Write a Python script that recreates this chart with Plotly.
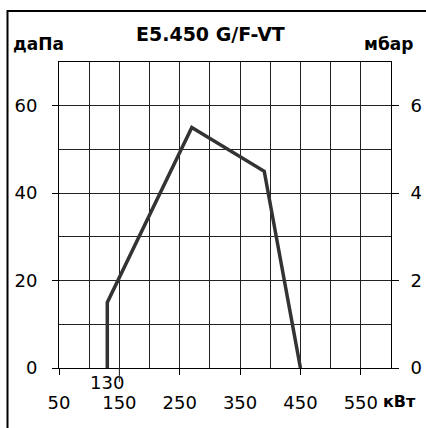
import plotly.graph_objects as go

# Data
power_kw = [130, 130, 270, 390, 450]
pressure_dapa = [0, 15, 55, 45, 0]

x_tick_vals = [50, 150, 250, 350, 450, 550]
x_tick_text = ["50", "150", "250", "350", "450", "550"]
extra_x_tick_vals = [130]
extra_x_tick_text = ["130"]
y_left_vals = [0, 20, 40, 60]
y_left_text = ["0", "20", "40", "60"]
y_right_vals = [0, 2, 4, 6]
y_right_text = ["0", "2", "4", "6"]

title_text = "E5.450 G/F-VT"
left_unit = "даПа"
right_unit = "мбар"
x_unit = "кВт"

FONT = "DejaVu Sans"
W, H = 426, 428
ML, MR, MT, MB = 59, 35, 62, 60
PW = W - ML - MR
PH = H - MT - MB


def px_to_paper_x(px):
    return (px - ML) / PW


def px_to_paper_y(py):
    return (H - MB - py) / PH


fig = go.Figure()
fig.add_trace(go.Scatter(
    x=power_kw, y=pressure_dapa, mode="lines",
    line=dict(color="#333333", width=3.5),
    showlegend=False, hoverinfo="skip",
))
# dummy trace on secondary axes so they render
fig.add_trace(go.Scatter(x=[None], y=[None], xaxis="x2", yaxis="y2",
                         showlegend=False, hoverinfo="skip"))

fig.update_layout(
    width=W, height=H,
    margin=dict(l=ML, r=MR, t=MT, b=MB, pad=0, autoexpand=False),
    paper_bgcolor="white", plot_bgcolor="white",
    font=dict(family=FONT, size=18, color="black"),
    xaxis=dict(
        range=[50, 600], tickvals=x_tick_vals, ticktext=x_tick_text,
        ticks="outside", ticklen=6, tickcolor="black", tickwidth=1,
        showgrid=False, zeroline=False, automargin=False,
        showline=True, mirror=True, linecolor="black", linewidth=1,
        minor=dict(tick0=50, dtick=50, showgrid=True, gridcolor="#222222",
                   gridwidth=1, ticks=""),
        ticklabelstandoff=12,
        tickfont=dict(family=FONT, size=18),
    ),
    xaxis2=dict(
        range=[50, 600], overlaying="x", side="bottom", automargin=False,
        tickvals=extra_x_tick_vals, ticktext=extra_x_tick_text,
        ticks="", showgrid=False, zeroline=False, showline=False,
        ticklabelstandoff=2,
        tickfont=dict(family=FONT, size=18),
    ),
    yaxis=dict(
        range=[0, 70], tickvals=y_left_vals, ticktext=y_left_text,
        ticks="outside", ticklen=6, tickcolor="black", tickwidth=1,
        showgrid=False, zeroline=False, automargin=False,
        showline=True, mirror=True, linecolor="black", linewidth=1,
        minor=dict(tick0=0, dtick=10, showgrid=True, gridcolor="#222222",
                   gridwidth=1, ticks=""),
        ticklabelstandoff=11,
        tickfont=dict(family=FONT, size=18),
    ),
    yaxis2=dict(
        range=[0, 7], overlaying="y", side="right", anchor="x",
        automargin=False,
        tickvals=y_right_vals, ticktext=y_right_text,
        ticks="outside", ticklen=7, tickcolor="black", tickwidth=1,
        showgrid=False, zeroline=False, showline=False,
        ticklabelstandoff=8,
        tickfont=dict(family=FONT, size=18),
    ),
    shapes=[
        # outer frame
        dict(type="rect", xref="paper", yref="paper",
             x0=px_to_paper_x(7.5), x1=px_to_paper_x(450),
             y0=px_to_paper_y(450), y1=px_to_paper_y(11),
             line=dict(color="black", width=2), fillcolor="rgba(0,0,0,0)",
             layer="above"),
        # longer tick at 150
        dict(type="line", xref="x", yref="paper", x0=150, x1=150,
             y0=0, y1=px_to_paper_y(382),
             line=dict(color="#333333", width=1)),
    ],
    annotations=[
        dict(text=f"<b>{title_text}</b>", xref="paper", yref="paper",
             x=px_to_paper_x(210), y=px_to_paper_y(33.5),
             xanchor="center", yanchor="middle", showarrow=False,
             font=dict(family=FONT, size=19)),
        dict(text=f"<b>{left_unit}</b>", xref="paper", yref="paper",
             x=px_to_paper_x(38), y=px_to_paper_y(44),
             xanchor="center", yanchor="middle", showarrow=False,
             font=dict(family=FONT, size=17)),
        dict(text=f"<b>{right_unit}</b>", xref="paper", yref="paper",
             x=px_to_paper_x(388), y=px_to_paper_y(44),
             xanchor="center", yanchor="middle", showarrow=False,
             font=dict(family=FONT, size=17)),
        dict(text=f"<b>{x_unit}</b>", xref="paper", yref="paper",
             x=px_to_paper_x(400), y=px_to_paper_y(401),
             xanchor="center", yanchor="middle", showarrow=False,
             font=dict(family=FONT, size=16)),
    ],
)

fig.write_html(
    "out.html",
    config={"displayModeBar": False},
    post_script="document.body.style.margin='0';document.body.style.overflow='hidden';",
)
